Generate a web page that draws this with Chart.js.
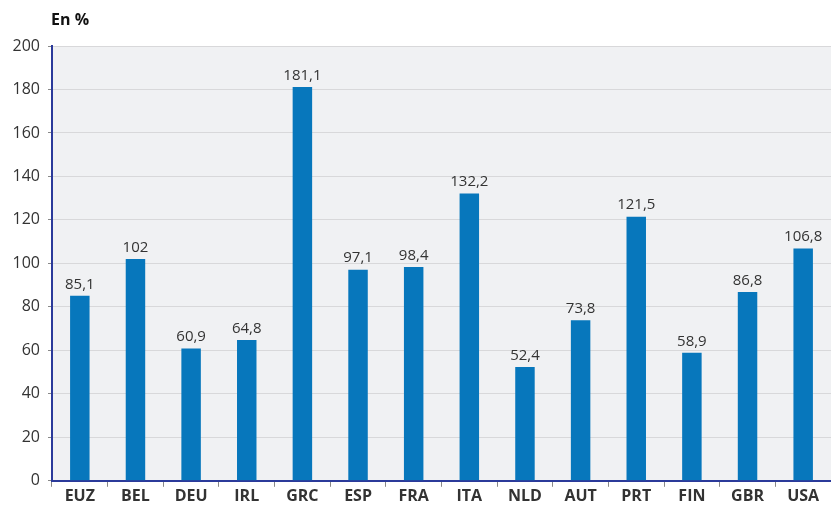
<!DOCTYPE html>
<html>
<head>
<meta charset="utf-8">
<script src="https://cdn.jsdelivr.net/npm/chart.js@4/dist/chart.umd.min.js"></script>
<style>
  body { margin: 0; background: #fff; }
  canvas { display: block; }
</style>
</head>
<body>
<canvas id="debtChart" width="831" height="509"></canvas>
<script>
const countries = ['EUZ', 'BEL', 'DEU', 'IRL', 'GRC', 'ESP', 'FRA', 'ITA', 'NLD', 'AUT', 'PRT', 'FIN', 'GBR', 'USA'];
const debtValues = [85.1, 102, 60.9, 64.8, 181.1, 97.1, 98.4, 132.2, 52.4, 73.8, 121.5, 58.9, 86.8, 106.8];
const yTicks = [0, 20, 40, 60, 80, 100, 120, 140, 160, 180, 200];
const unitLabel = 'En %';

const FONT = "'Open Sans', 'Noto Sans', sans-serif";

// light grey background behind the plot + unit label
const backdrop = {
  id: 'backdrop',
  beforeDraw(chart) {
    const { ctx, chartArea } = chart;
    ctx.save();
    ctx.fillStyle = '#f0f1f3';
    ctx.fillRect(chartArea.left, chartArea.top, chartArea.right - chartArea.left, chartArea.bottom - chartArea.top);
    ctx.fillStyle = '#111';
    ctx.font = 'bold 16px ' + FONT;
    ctx.textBaseline = 'middle';
    ctx.fillText(unitLabel, 51, 20);
    ctx.restore();
  }
};

// values on top of bars, french decimal comma
const barLabels = {
  id: 'barLabels',
  afterDatasetsDraw(chart) {
    const { ctx } = chart;
    const meta = chart.getDatasetMeta(0);
    ctx.save();
    ctx.font = '15px ' + FONT;
    ctx.fillStyle = '#333';
    ctx.textAlign = 'center';
    ctx.textBaseline = 'bottom';
    meta.data.forEach((bar, i) => {
      ctx.fillText(String(debtValues[i]).replace('.', ','), bar.x, bar.y - 4);
    });
    ctx.restore();
  }
};

new Chart(document.getElementById('debtChart'), {
  type: 'bar',
  data: {
    labels: countries,
    datasets: [{
      data: debtValues,
      backgroundColor: '#0777bc',
      barPercentage: 0.35,
      categoryPercentage: 1
    }]
  },
  options: {
    responsive: false,
    animation: false,
    layout: { padding: { top: 46, right: 0, left: 0, bottom: 3 } },
    plugins: {
      legend: { display: false },
      tooltip: { enabled: false }
    },
    scales: {
      x: {
        grid: {
          offset: true,
          drawOnChartArea: false,
          tickLength: 6,
          color: '#888'
        },
        border: { color: '#2b3a9a', width: 2 },
        ticks: {
          color: '#333',
          padding: 0,
          font: { family: FONT, size: 16, weight: 'bold' }
        }
      },
      y: {
        min: 0,
        max: 200,
        afterBuildTicks(scale) {
          scale.ticks = yTicks.map(v => ({ value: v }));
        },
        afterFit(scale) { scale.width = 52; },
        grid: {
          color: '#d8d8da',
          tickLength: 4,
          tickColor: '#888'
        },
        border: { color: '#2b3a9a', width: 2 },
        ticks: {
          color: '#333',
          padding: 8,
          font: { family: FONT, size: 16 }
        }
      }
    }
  },
  plugins: [backdrop, barLabels]
});
</script>
</body>
</html>
